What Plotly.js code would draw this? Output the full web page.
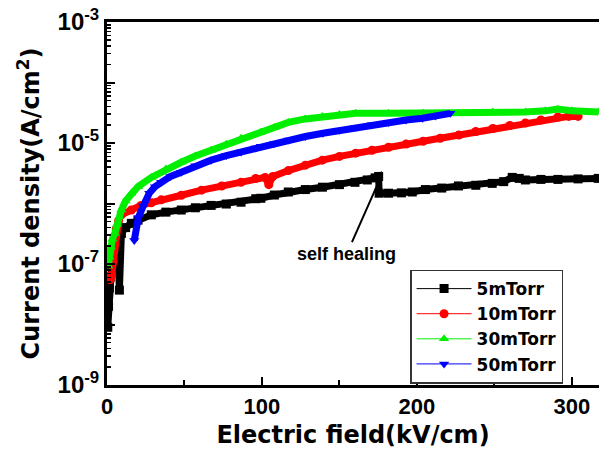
<!DOCTYPE html>
<html>
<head>
<meta charset="utf-8">
<script src="https://cdn.plot.ly/plotly-3.0.1.min.js"></script>
<style>html,body{margin:0;padding:0;background:#fff;}#chart{width:599px;height:449px;}</style>
</head>
<body>
<div id="chart"></div>
<script>
// ---- data ----
const seriesNames = ["5mTorr", "10mTorr", "30mTorr", "50mTorr"];

const x5 = [0.5, 1, 1.5, 2, 3, 4, 5, 6, 7, 8, 9.3, 12, 15.7, 20, 28.6, 38, 47.9, 57, 67.2, 77, 86.5, 96, 99.3, 108, 117, 128, 139, 150, 160, 168, 173, 175.3, 175.6, 181.7, 190, 197, 205.5, 216, 226.8, 238, 248.6, 256, 261.5, 266, 270, 280, 291, 304, 317];
const y5 = [9e-9, 2e-8, 4e-8, 6e-8, 9e-8, 1.3e-7, 1.8e-7, 2.2e-7, 1.8e-7, 3.7e-8, 3.2e-7, 4.0e-7, 4.7e-7, 5.3e-7, 6.5e-7, 7.2e-7, 7.8e-7, 8.5e-7, 9.3e-7, 9.8e-7, 1.05e-6, 1.2e-6, 1.22e-6, 1.38e-6, 1.55e-6, 1.7e-6, 1.86e-6, 2.05e-6, 2.24e-6, 2.45e-6, 2.65e-6, 2.8e-6, 1.48e-6, 1.48e-6, 1.5e-6, 1.55e-6, 1.7e-6, 1.8e-6, 1.95e-6, 2.0e-6, 2.15e-6, 2.3e-6, 2.7e-6, 2.6e-6, 2.45e-6, 2.5e-6, 2.5e-6, 2.55e-6, 2.6e-6];

const x10 = [1, 2, 3, 4, 5, 6, 7.5, 9.3, 15.7, 22, 28.6, 35, 48, 61, 74, 86.5, 96, 102, 104.4, 107, 117, 128, 139, 150, 160.5, 171, 181.7, 193, 204, 215, 227, 238, 249, 260, 270, 280, 291, 298, 304];
const y10 = [6.2e-8, 5.5e-8, 6.5e-8, 1.1e-7, 2.2e-7, 3.8e-7, 5.2e-7, 6.5e-7, 7.8e-7, 9.3e-7, 1.03e-6, 1.15e-6, 1.37e-6, 1.66e-6, 1.95e-6, 2.24e-6, 2.6e-6, 2.7e-6, 2.05e-6, 2.8e-6, 3.5e-6, 4.3e-6, 5.2e-6, 6.0e-6, 6.8e-6, 7.6e-6, 8.5e-6, 9.6e-6, 1.07e-5, 1.2e-5, 1.35e-5, 1.55e-5, 1.74e-5, 1.95e-5, 2.14e-5, 2.4e-5, 2.69e-5, 2.75e-5, 2.75e-5];

const x30 = [0.8, 1.5, 2.5, 3.5, 5, 6.5, 8, 9.3, 12, 15.7, 20, 28.6, 38, 47.9, 57, 67.2, 77, 86.5, 99.3, 108, 117, 128, 139, 150, 160.5, 181.7, 204, 227, 249, 270, 283, 291, 300, 317];
const y30 = [9.3e-8, 1.3e-7, 1.9e-7, 2.6e-7, 3.2e-7, 4.5e-7, 6e-7, 7.8e-7, 1.1e-6, 1.48e-6, 1.9e-6, 2.7e-6, 3.7e-6, 4.8e-6, 6.1e-6, 7.6e-6, 9.5e-6, 1.2e-5, 1.51e-5, 1.8e-5, 2.19e-5, 2.5e-5, 2.75e-5, 2.95e-5, 3.1e-5, 3.1e-5, 3.1e-5, 3.1e-5, 3.24e-5, 3.24e-5, 3.4e-5, 3.63e-5, 3.4e-5, 3.24e-5];

const x50 = [17.6, 20.2, 23.4, 27.3, 31, 35, 41, 47.9, 57, 67.2, 77, 86.5, 96, 99.3, 108, 117.3, 128, 139.3, 150, 160.5, 171, 181.7, 193, 203.6, 212, 221.6];
const y50 = [2.45e-7, 5.8e-7, 9.1e-7, 1.48e-6, 1.9e-6, 2.24e-6, 2.8e-6, 3.3e-6, 4.2e-6, 5.2e-6, 6.2e-6, 7.1e-6, 8.3e-6, 8.8e-6, 9.8e-6, 1.12e-5, 1.28e-5, 1.45e-5, 1.62e-5, 1.82e-5, 2.0e-5, 2.19e-5, 2.4e-5, 2.57e-5, 2.8e-5, 3.09e-5];

const yLabelVals = [1e-9, 1e-7, 1e-5, 1e-3];
const yLabelText = ["10<sup>-9</sup>", "10<sup>-7</sup>", "10<sup>-5</sup>", "10<sup>-3</sup>"];
const yMidDecades = [1e-8, 1e-6, 1e-4];
const xTickVals = [0, 100, 200, 300];
const xTickText = ["0", "100", "200", "300"];
const xMinorVals = [50, 150, 250];

// ---- styles ----
const colors = ["#000000", "#ff0000", "#00ee00", "#0000ff"];
const symbols = ["square", "circle", "triangle-up", "triangle-down"];
const xs = [x5, x10, x30, x50];
const ys = [y5, y10, y30, y50];

const traces = [];
for (let i = 0; i < 4; i++) {
  traces.push({
    x: xs[i], y: ys[i], type: "scatter", mode: "lines",
    line: {color: colors[i], width: 7}, showlegend: false, hoverinfo: "skip"
  });
  traces.push({
    x: xs[i], y: ys[i], type: "scatter", mode: "lines+markers", name: seriesNames[i],
    line: {color: colors[i], width: 1},
    marker: {symbol: symbols[i], size: 9, color: colors[i]}
  });
}

const minorVals = [];
for (let e = -9; e < -3; e++) {
  for (let m = 2; m <= 9; m++) minorVals.push(m * Math.pow(10, e));
}

const tickFont = {family: "Liberation Sans, Arial, sans-serif", size: 22, color: "#000", weight: "bold"};
const yTickFont = {family: "Liberation Sans, Arial, sans-serif", size: 24, color: "#000", weight: "bold"};
const titleFont = {family: "DejaVu Sans, sans-serif", size: 24, color: "#000", weight: "bold"};

const layout = {
  width: 599, height: 449,
  margin: {l: 107, r: 0, t: 22, b: 64},
  paper_bgcolor: "#fff", plot_bgcolor: "#fff",
  showlegend: true,
  legend: {
    x: 0.616, y: 0.318, xanchor: "left", yanchor: "top",
    bgcolor: "#fff", bordercolor: "#333", borderwidth: 1.5,
    font: {family: "DejaVu Sans, sans-serif", size: 17, color: "#000", weight: "bold"},
    itemwidth: 55, entrywidth: 180, entrywidthmode: "pixels"
  },
  xaxis: {
    range: [0, 317.5], showgrid: false, zeroline: false,
    showline: true, linecolor: "#000", linewidth: 3, mirror: true,
    ticks: "inside", ticklen: 8, tickwidth: 2, tickcolor: "#000",
    tickmode: "array", tickvals: xTickVals, ticktext: xTickText,
    minor: {tickmode: "array", tickvals: xMinorVals, ticks: "inside", ticklen: 5, tickwidth: 2, tickcolor: "#000"},
    tickfont: tickFont,
    title: {text: "Electric field(kV/cm)", font: titleFont, standoff: 10}
  },
  yaxis: {
    type: "log", range: [-9, -3], showgrid: false, zeroline: false,
    showline: true, linecolor: "#000", linewidth: 3, mirror: false,
    ticks: "inside", ticklen: 8, tickwidth: 2, tickcolor: "#000",
    tickmode: "array", tickvals: yLabelVals, ticktext: yLabelText,
    minor: {tickmode: "array", tickvals: minorVals, ticks: "inside", ticklen: 4, tickwidth: 1.5, tickcolor: "#000"},
    tickfont: yTickFont,
    title: {text: "Current density(A/cm<sup>2</sup>)", font: titleFont, standoff: 12}
  },
  yaxis2: {
    type: "log", range: [-9, -3], overlaying: "y", side: "left", anchor: "x",
    showgrid: false, zeroline: false, showline: false,
    ticks: "inside", ticklen: 8, tickwidth: 2, tickcolor: "#000",
    tickmode: "array", tickvals: yMidDecades, showticklabels: false
  },
  annotations: [{
    x: 174.8, y: -5.67, xref: "x", yref: "y",
    text: "self healing", showarrow: true, arrowhead: 0, arrowwidth: 2, arrowcolor: "#000",
    ax: -31, ay: 70,
    font: {family: "Liberation Sans, Arial, sans-serif", size: 18, color: "#000", weight: "bold"}
  }]
};

// invisible trace so the overlaid axis is drawn
traces.push({x: [], y: [], yaxis: "y2", type: "scatter", mode: "lines", showlegend: false, hoverinfo: "skip"});

Plotly.newPlot("chart", traces, layout, {displayModeBar: false, staticPlot: true});
</script>
</body>
</html>
